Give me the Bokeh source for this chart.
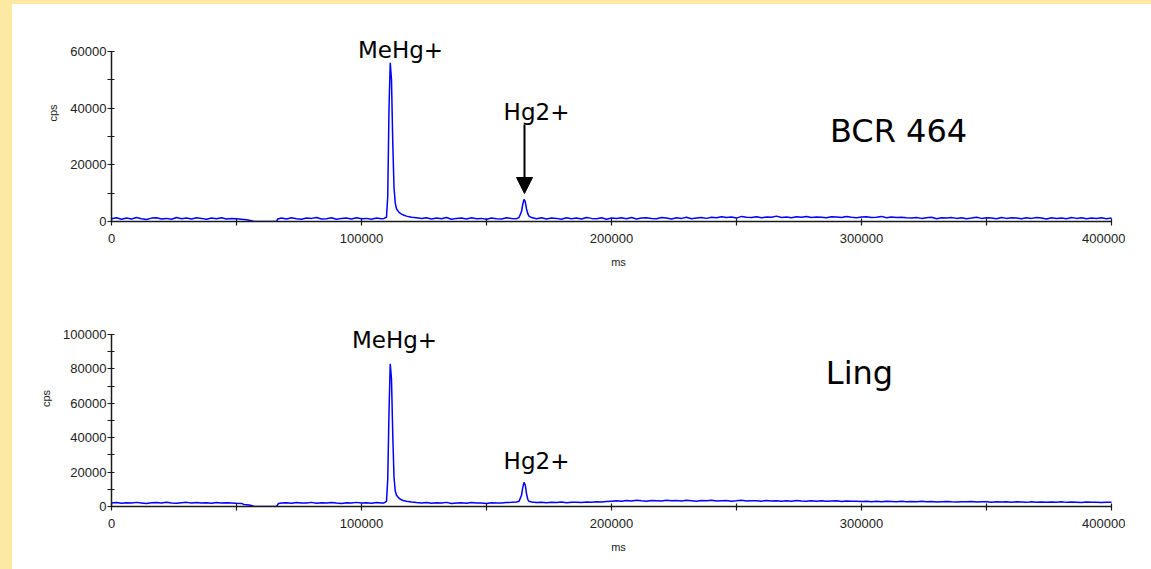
from bokeh.plotting import figure
from bokeh.models import Range1d, Label, Arrow, NormalHead, Spacer, FixedTicker, NumeralTickFormatter
from bokeh.layouts import row, column
from bokeh.embed import file_html
from bokeh.resources import INLINE

# ---------------- data ----------------
x_ticks = [0, 100000, 200000, 300000, 400000]
x_minor = [50000, 150000, 250000, 350000]
bcr_y_ticks = [0, 20000, 40000, 60000]
bcr_y_minor = [10000, 30000, 50000]
ling_y_ticks = [0, 20000, 40000, 60000, 80000, 100000]
ling_y_minor = [10000, 30000, 50000, 70000, 90000]

# BCR 464 -- baseline segments (start ms, step ms, cps values)
bcr_base_a = [1000, 1300, 800, 1200, 900, 1400, 1000, 700, 1200, 1300, 900, 1100, 800, 1400,
              1000, 1200, 900, 1300, 1100, 800, 1200, 1000, 1300, 900, 1100, 1000, 800, 600]
bcr_gap_ms = [56000, 57000, 66000, 66500]
bcr_gap_cps = [300, 0, 0, 900]
bcr_base_b = [1200, 900, 1300, 1000, 800, 1200, 1100, 1400, 900, 1000, 1300, 800, 1100, 1200,
              900, 1300, 1000, 1100, 800, 1200, 1000]
bcr_mehg_ms = [109000, 110000, 110500, 111000, 111500, 112000, 112500, 113000, 113500, 114000,
               115000, 116000, 117000, 118000, 120000, 122000]
bcr_mehg_cps = [1100, 1500, 9000, 40000, 56000, 50000, 28000, 12000, 6500, 4500,
                3200, 2600, 2200, 1900, 1500, 1300]
bcr_base_c = [1100, 1300, 900, 1200, 1000, 1400, 800, 1100, 1200, 900, 1300, 1000, 1100, 800,
              1200, 1000, 900, 1300, 1100, 1000]
bcr_hg_ms = [163000, 164000, 164500, 165000, 165500, 166000, 166500, 167000, 168000]
bcr_hg_cps = [1400, 3500, 6000, 7800, 7000, 4500, 2800, 1900, 1400]
bcr_base_d = [1000, 1300, 900, 1200, 1100, 800, 1300, 1000, 1200, 900,
              1400, 1100, 1000, 1300, 800, 1200, 1100, 1300, 1000, 1400,
              900, 1200, 1300, 1100, 1000, 1400, 1200, 900, 1300, 1100,
              1500, 1000, 1200, 1400, 1100,
              1500, 1300, 1700, 1400, 1600, 1200, 1800, 1500, 1400, 1700,
              1300, 1600, 1500, 1900, 1400, 1600, 1300, 1700, 1500, 1800,
              1400, 1600, 1500, 1300, 1700, 1600, 1400, 1800, 1500, 1300,
              1600, 1700, 1400, 1500, 1800, 1300, 1600, 1400, 1500, 1300,
              1200, 1400, 1100, 1300, 1500, 1000, 1300, 1200, 1400, 1100,
              1300, 1000, 1200, 1500, 1100, 1300, 1200, 1000, 1400, 1100,
              1300, 1200, 1000, 1300, 1100, 1400, 1200, 900, 1300, 1100,
              1200, 1000, 1400, 1100, 1300, 1000, 1200, 1100, 1300, 1000,
              1200]

# Ling
ling_base_a = [2100, 2300, 1900, 2200, 2000, 2400, 2100, 1800, 2200, 2300, 2000, 2500, 2100,
               1900, 2200, 2400, 2000, 2300, 2100, 2200, 1900, 2300, 2000, 2200, 2100, 1900]
ling_gap_ms = [52000, 53000, 55000, 56000, 57000, 66000, 66800]
ling_gap_cps = [1800, 1200, 900, 600, 0, 0, 1800]
ling_base_b = [2000, 2200, 1900, 2300, 2100, 2000, 2400, 1900, 2200, 2100, 2300, 2000, 1800,
               2200, 2100, 2400, 2000, 2200, 1900, 2300, 2100]
ling_mehg_ms = [109000, 110000, 110500, 111000, 111500, 112000, 112500, 113000, 113500, 114000,
                115000, 116000, 117000, 118000, 120000, 122000]
ling_mehg_cps = [2100, 3000, 16000, 55000, 83000, 74000, 42000, 17000, 9000, 6500,
                 4800, 3900, 3300, 3000, 2600, 2300]
ling_base_c = [2100, 2300, 1900, 2200, 2000, 2400, 1800, 2100, 2200, 1900, 2300, 2000, 2100,
               1800, 2200, 2000, 2100, 2300, 2400, 2600]
ling_hg_ms = [163000, 164000, 164500, 165000, 165500, 166000, 166500, 167000, 168000]
ling_hg_cps = [3000, 6500, 11000, 14000, 12500, 7500, 4200, 3000, 2600]
ling_base_d = [2300, 2500, 2200, 2400, 2300, 2600, 2200, 2500, 2400, 2300, 2600, 2500, 2700, 2600, 2900,
               3100, 3300, 3000, 3500, 3200, 3600, 3300, 3100, 3500, 3400,
               3200, 3700, 3300, 3500, 3200, 3600, 3400, 3100, 3500, 3300,
               3600, 3200, 3400, 3500, 3100, 3300, 3600, 3200, 3400, 3300,
               3100, 3500, 3200, 3400, 3000, 3300, 3100, 3500, 3200, 3000,
               3300, 3100, 3400, 3000, 3200, 3300, 2900, 3200, 3000, 3100,
               2900, 3100, 2800, 3000, 2700, 3000, 2900, 2800, 3100, 2700,
               2900, 2800, 3000, 2700, 2900, 2600, 2800, 2900, 2700, 2600,
               2800, 2700, 2900, 2600, 2700, 2800, 2500, 2700, 2600, 2800,
               2500, 2700, 2600, 2400, 2700, 2500, 2600, 2400, 2600, 2500,
               2700, 2400, 2600, 2500, 2300, 2600, 2400, 2500, 2300, 2500,
               2400]

SAMPLE_STEP = 2000


def seg(start, vals):
    return [start + SAMPLE_STEP * i for i in range(len(vals))], list(vals)


def build(parts):
    ms, cps = [], []
    for t, v in parts:
        ms += t
        cps += v
    return ms, cps


bcr_ms, bcr_cps = build([seg(0, bcr_base_a), (bcr_gap_ms, bcr_gap_cps), seg(68000, bcr_base_b),
                         (bcr_mehg_ms, bcr_mehg_cps), seg(124000, bcr_base_c),
                         (bcr_hg_ms, bcr_hg_cps), seg(170000, bcr_base_d)])
ling_ms, ling_cps = build([seg(0, ling_base_a), (ling_gap_ms, ling_gap_cps), seg(68000, ling_base_b),
                           (ling_mehg_ms, ling_mehg_cps), seg(124000, ling_base_c),
                           (ling_hg_ms, ling_hg_cps), seg(170000, ling_base_d)])

YELLOW = "#FBE9A4"
TRACE = "#0000FF"
AX = "#1a1a1a"
ANN_FONT = "DejaVu Sans"


def make_fig(height, y_end, border_bottom, y_ticks, y_minor):
    p = figure(width=1113, height=height, output_backend="svg", toolbar_location=None,
               x_range=Range1d(0, 405600), y_range=Range1d(0, y_end),
               min_border_left=99, min_border_right=0, min_border_top=0,
               min_border_bottom=border_bottom)
    p.outline_line_color = None
    p.background_fill_color = "white"
    p.border_fill_color = "white"
    p.grid.visible = False
    p.xaxis.ticker = FixedTicker(ticks=x_ticks, minor_ticks=x_minor)
    p.yaxis.ticker = FixedTicker(ticks=y_ticks, minor_ticks=y_minor)
    p.xaxis.bounds = (x_ticks[0], x_ticks[-1])
    p.yaxis.bounds = (y_ticks[0], y_ticks[-1])
    for ax in (p.xaxis[0], p.yaxis[0]):
        ax.formatter = NumeralTickFormatter(format="0")
        ax.axis_line_color = AX
        ax.axis_line_width = 1.5
        ax.major_tick_line_color = AX
        ax.minor_tick_line_color = AX
        ax.major_tick_line_width = 1.2
        ax.minor_tick_line_width = 1.2
        ax.major_tick_in = 3
        ax.major_tick_out = 4
        ax.minor_tick_in = 3
        ax.minor_tick_out = 4
        ax.major_label_text_font = "Liberation Sans"
        ax.major_label_text_font_size = "13px"
        ax.major_label_text_color = "#222222"
        ax.axis_label_text_font = "Liberation Sans"
        ax.axis_label_text_font_size = "11px"
        ax.axis_label_text_font_style = "normal"
        ax.axis_label_text_color = "#222222"
    p.xaxis.axis_label = "ms"
    p.yaxis.axis_label = "cps"
    p.xaxis.major_label_standoff = 8
    p.xaxis.axis_label_standoff = 10
    p.yaxis.major_label_standoff = 1
    p.yaxis.axis_label_standoff = 8
    return p


p1 = make_fig(286, 76588, 69, bcr_y_ticks, bcr_y_minor)
p1.line(bcr_ms, bcr_cps, line_color=TRACE, line_width=1.5)

p2 = make_fig(279, 125581, 63, ling_y_ticks, ling_y_minor)
p2.line(ling_ms, ling_cps, line_color=TRACE, line_width=1.5)

# annotations
p1.add_layout(Label(x=115600, y=60400, text="MeHg+", text_align="center", text_baseline="middle",
                    text_font=ANN_FONT, text_font_size="23px", text_color="black"))
p1.add_layout(Label(x=170000, y=38500, text="Hg2+", text_align="center", text_baseline="middle",
                    text_font=ANN_FONT, text_font_size="23px", text_color="black"))
p1.add_layout(Label(x=314800, y=32100, text="BCR 464", text_align="center", text_baseline="middle",
                    text_font=ANN_FONT, text_font_size="32px", text_color="black"))
p1.add_layout(Arrow(end=NormalHead(size=16, fill_color="black", line_color="black"),
                    x_start=165200, y_start=34240, x_end=165200, y_end=9880,
                    line_color="black", line_width=2))

p2.add_layout(Label(x=113200, y=97000, text="MeHg+", text_align="center", text_baseline="middle",
                    text_font=ANN_FONT, text_font_size="23px", text_color="black"))
p2.add_layout(Label(x=170000, y=26700, text="Hg2+", text_align="center", text_baseline="middle",
                    text_font=ANN_FONT, text_font_size="23px", text_color="black"))
p2.add_layout(Label(x=299200, y=77900, text="Ling", text_align="center", text_baseline="middle",
                    text_font=ANN_FONT, text_font_size="32px", text_color="black"))

left_strip = Spacer(width=12, height=569, styles={"background-color": YELLOW})
top_strip = Spacer(width=1139, height=4, styles={"background-color": YELLOW})
layout = row(left_strip, column(top_strip, p1, p2, spacing=0), spacing=0)

open("out.html", "w").write(file_html(layout, INLINE))
